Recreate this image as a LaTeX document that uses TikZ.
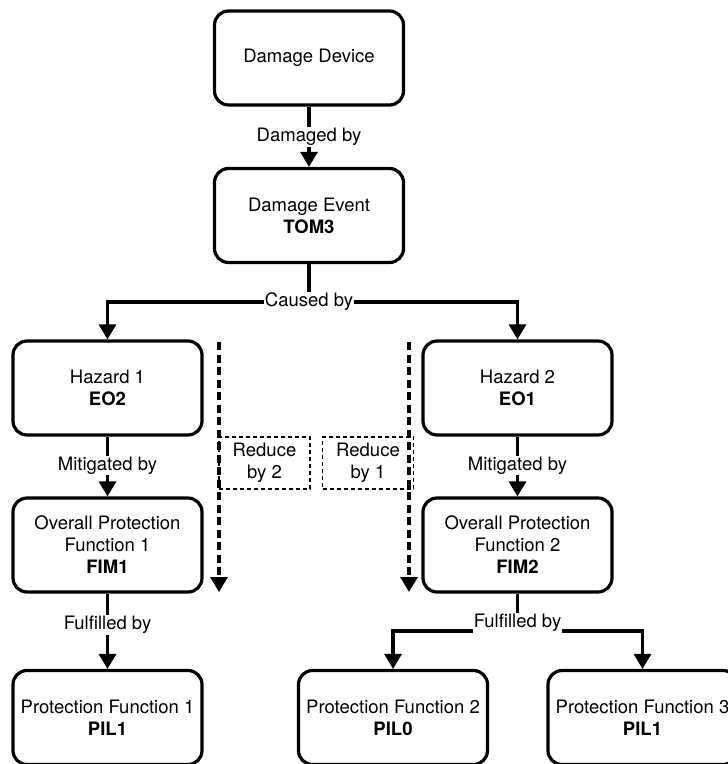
\documentclass[tikz,border=0pt]{standalone}
\usepackage{fontspec}
\setmainfont{TeX Gyre Heros}
\usetikzlibrary{arrows.meta}

\begin{document}
\begin{tikzpicture}[x=1pt,y=-1pt,
  font=\fontsize{18.5}{22}\selectfont,
  box/.style={draw, line width=3.2pt, rounded corners=14pt, align=center,
    minimum width=189pt, minimum height=94pt, inner sep=0pt},
  reducebox/.style={draw, line width=1.2pt, dash pattern=on 4pt off 3pt,
    align=center, minimum width=91pt, minimum height=52pt, inner sep=0pt},
  arr/.style={line width=3.2pt, -{Triangle[width=17pt,length=15pt]}},
  link/.style={line width=3.2pt},
  dasharr/.style={line width=3.2pt, dash pattern=on 8pt off 4.5pt,
    -{Triangle[width=17pt,length=15pt]}},
  lbl/.style={fill=white, inner sep=1pt}
]
\useasboundingbox (0,0) rectangle (728,764);

% boxes
\node[box] (dev)  at (309,58)    {Damage Device};
\node[box] (evt)  at (309,215.5) {Damage Event\\\textbf{TOM3}};
\node[box] (haz1) at (107.5,388) {Hazard 1\\\textbf{EO2}};
\node[box] (haz2) at (517.5,388) {Hazard 2\\\textbf{EO1}};
\node[box] (fim1) at (107.5,545) {Overall Protection\\Function 1\\\textbf{FIM1}};
\node[box] (fim2) at (517.5,545) {Overall Protection\\Function 2\\\textbf{FIM2}};
\node[box] (pf1)  at (107.5,717.5) {Protection Function 1\\\textbf{PIL1}};
\node[box] (pf2)  at (393,717.5)   {Protection Function 2\\\textbf{PIL0}};
\node[box] (pf3)  at (642.5,717.5) {Protection Function 3\\\textbf{PIL1}};

% reduction boxes
\node[reducebox] (red2) at (264.5,463) {Reduce\\by 2};
\node[reducebox] (red1) at (368,463)   {Reduce\\by 1};

% straight connectors
\draw[arr] (dev) -- node[lbl] {Damaged by} (evt);
\draw[arr] (haz1) -- node[lbl, pos=0.48] {Mitigated by} (fim1);
\draw[arr] (haz2) -- node[lbl, pos=0.48] {Mitigated by} (fim2);
\draw[arr] (fim1) -- node[lbl, pos=0.42] {Fulfilled by} (pf1);

% branching connectors
\coordinate (cb) at (309,302);
\draw[link] (evt) -- (cb);
\draw[arr] (cb) -| (haz1);
\draw[arr] (cb) -| (haz2);
\node[lbl] (cblbl) at (cb) {Caused by};

\coordinate (fb) at (517.5,631);
\draw[link] (fim2) -- (fb);
\draw[arr] (fb) -| (pf2);
\draw[arr] (fb) -| (pf3);
\node[lbl] (fblbl) at (517.5,623) {Fulfilled by};

% reduction paths
\coordinate (d2s) at (219,342);
\coordinate (d2e) at (219,592);
\coordinate (d1s) at (409,342);
\coordinate (d1e) at (409,592);
\draw[dasharr] (d2s) -- (d2e);
\draw[dasharr] (d1s) -- (d1e);
\end{tikzpicture}
\end{document}
